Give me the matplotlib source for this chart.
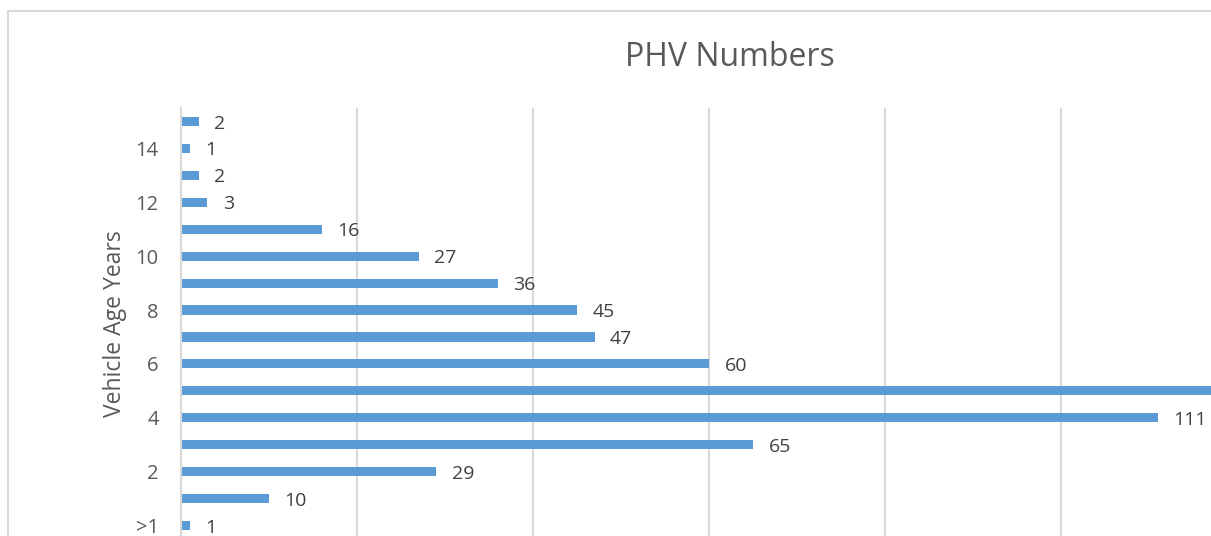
import matplotlib.pyplot as plt
from matplotlib.patches import Rectangle

plt.rcParams['font.family'] = ['Open Sans', 'DejaVu Sans']

ages = ['>1', '1', '2', '3', '4', '5', '6', '7', '8', '9', '10', '11', '12', '13', '14', '15']
counts = [1, 10, 29, 65, 111, 130, 60, 47, 45, 36, 27, 16, 3, 2, 1, 2]

fig = plt.figure(figsize=(12.11, 5.36), dpi=100)
# outer chart border (cropped on right and bottom)
fig.patches.append(Rectangle((8 / 1211, -0.05), 1.1, (536 - 11) / 536 + 0.05,
                             transform=fig.transFigure, fill=False,
                             edgecolor='#d9d9d9', linewidth=1.5))

ax = fig.add_axes([181 / 1211, -3 / 536, (1211 - 181) / 1211, (539 - 108) / 536])
pos = range(len(ages))
ax.barh(pos, counts, height=0.34, color='#5b9bd5')

for i, v in enumerate(counts):
    ax.annotate(str(v), xy=(v, i), xytext=(11, -1.5), textcoords='offset points',
                ha='left', va='center', fontsize=14, color='#404040')

ax.set_xlim(0, 117)
ax.set_ylim(-0.5, 15.5)
ax.set_xticks([0, 20, 40, 60, 80, 100])
ax.set_xticklabels([])
ax.tick_params(axis='x', length=0)
ax.set_yticks(list(pos))
ax.set_yticklabels([a if i % 2 == 0 else '' for i, a in enumerate(ages)],
                   fontsize=14.5, color='#595959')
ax.tick_params(axis='y', length=0, pad=16)
ax.grid(axis='x', color='#d9d9d9', linewidth=1.5)
ax.set_axisbelow(True)
for s in ['top', 'right', 'bottom']:
    ax.spines[s].set_visible(False)
ax.spines['left'].set_color('#d9d9d9')
ax.spines['left'].set_linewidth(1.5)
ax.set_ylabel('Vehicle Age Years', fontsize=16.5, color='#595959', labelpad=6)

fig.text(730 / 1211, 1 - 57 / 536, 'PHV Numbers', ha='center', va='center',
         fontsize=23, color='#595959')

fig.savefig('out.png', dpi=100)
